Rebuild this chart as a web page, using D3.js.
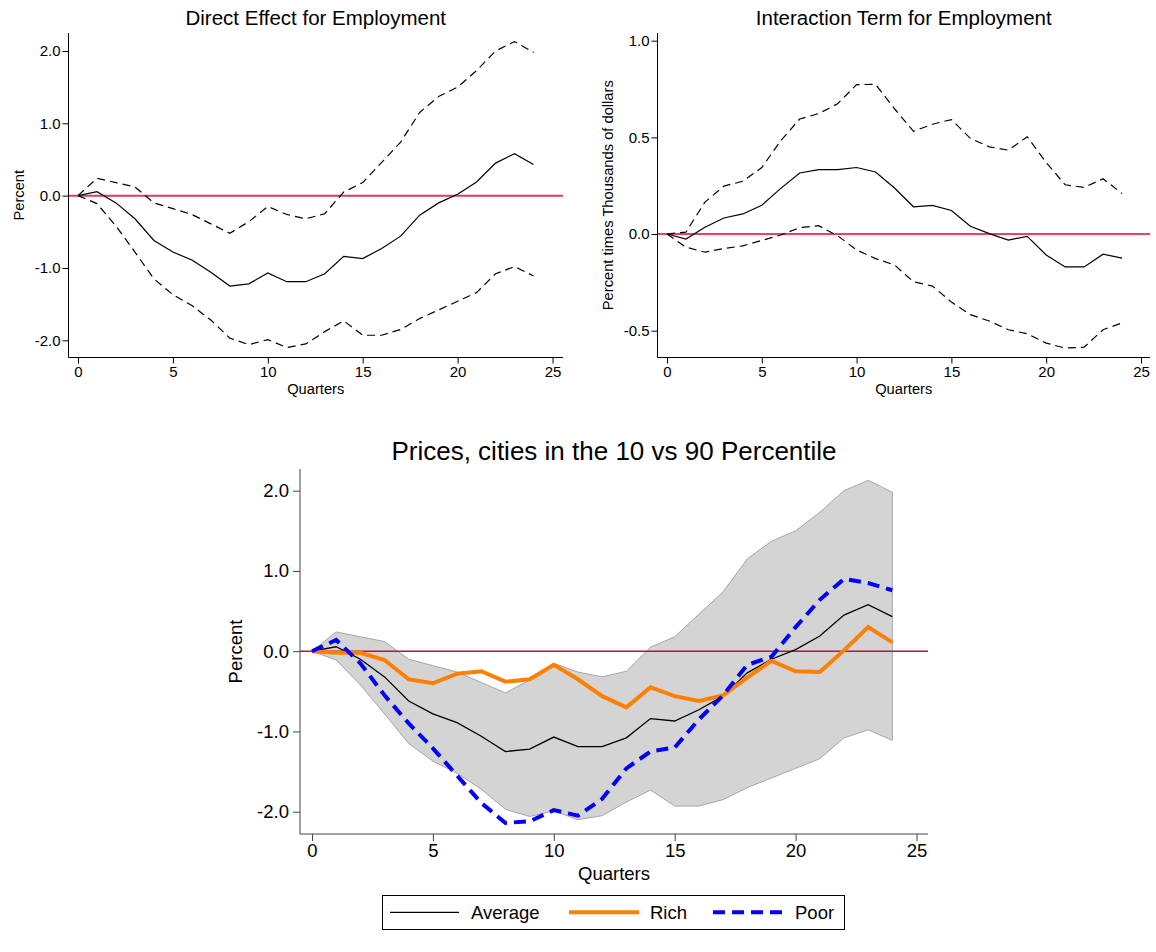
<!DOCTYPE html>
<html><head><meta charset="utf-8">
<script src="https://cdn.jsdelivr.net/npm/d3@7"></script>
<style>
html,body{margin:0;padding:0;background:#fff;}
svg{display:block;font-family:"Liberation Sans",Arial,sans-serif;}
</style></head>
<body>
<svg id="chart" width="1156" height="952"></svg>
<script>
// ---------------- DATA ----------------
const quarters = d3.range(0, 25);

// Direct effect for employment (also the "Average" in the prices chart)
const directMean  = [0, 0.055, -0.10, -0.32, -0.62, -0.78, -0.89, -1.06, -1.25, -1.22, -1.07, -1.19, -1.19, -1.08, -0.84, -0.87, -0.73, -0.56, -0.27, -0.10, 0.02, 0.19, 0.45, 0.58, 0.43];
const directUpper = [0, 0.24, 0.18, 0.12, -0.10, -0.18, -0.26, -0.39, -0.52, -0.36, -0.15, -0.26, -0.32, -0.25, 0.05, 0.18, 0.46, 0.74, 1.15, 1.37, 1.50, 1.73, 2.00, 2.13, 1.98];
const directLower = [0, -0.11, -0.42, -0.78, -1.15, -1.37, -1.52, -1.72, -1.97, -2.06, -1.99, -2.10, -2.05, -1.88, -1.73, -1.93, -1.93, -1.85, -1.70, -1.58, -1.46, -1.34, -1.08, -0.98, -1.11];

// Interaction term for employment
const interMean  = [0, -0.026, 0.035, 0.083, 0.104, 0.149, 0.236, 0.316, 0.333, 0.333, 0.344, 0.321, 0.238, 0.141, 0.148, 0.122, 0.040, 0.002, -0.031, -0.012, -0.108, -0.170, -0.170, -0.104, -0.125];
const interUpper = [0, 0.010, 0.165, 0.248, 0.273, 0.344, 0.483, 0.595, 0.623, 0.674, 0.773, 0.774, 0.648, 0.531, 0.568, 0.592, 0.495, 0.451, 0.434, 0.503, 0.370, 0.255, 0.241, 0.286, 0.210];
const interLower = [0, -0.068, -0.094, -0.075, -0.061, -0.033, -0.005, 0.033, 0.043, -0.009, -0.082, -0.127, -0.160, -0.247, -0.269, -0.352, -0.417, -0.450, -0.495, -0.516, -0.564, -0.590, -0.585, -0.495, -0.460];

// Prices, cities in the 10 vs 90 percentile
const richValues = [0, -0.02, -0.02, -0.11, -0.35, -0.40, -0.28, -0.25, -0.38, -0.35, -0.17, -0.35, -0.56, -0.70, -0.45, -0.56, -0.62, -0.55, -0.33, -0.12, -0.25, -0.26, 0.01, 0.30, 0.11];
const poorValues = [0, 0.14, -0.15, -0.55, -0.90, -1.21, -1.55, -1.89, -2.14, -2.12, -1.98, -2.05, -1.84, -1.46, -1.25, -1.20, -0.85, -0.55, -0.17, -0.07, 0.30, 0.64, 0.90, 0.85, 0.76];

const xTicks = [0, 5, 10, 15, 20, 25];
const yTicksDirect = [-2, -1, 0, 1, 2];
const yTicksInter = [-0.5, 0, 0.5, 1];
const legendLabels = ["Average", "Rich", "Poor"];

// ---------------- DRAW ----------------
const svg = d3.select("#chart");
const fmt = v => d3.format(".1f")(v).replace("\u2212", "-");

function panel(o) {
  const g = svg.append("g");
  const x = d3.scaleLinear().domain([0, 25]).range(o.xr);
  const y = d3.scaleLinear().domain(o.yd).range(o.yr);
  const axisColor = o.axisColor || "#000";

  g.append("text").attr("x", (o.left + o.right) / 2).attr("y", o.titleY)
    .attr("text-anchor", "middle").attr("font-size", o.titleSize).attr("fill", "#000").text(o.title);

  if (o.band) {
    const area = d3.area().x((d, i) => x(quarters[i])).y0((d, i) => y(o.band[0][i])).y1((d, i) => y(o.band[1][i]));
    g.append("path").datum(o.band[0]).attr("d", area).attr("fill", "#d4d4d4").attr("stroke", "#a6a6a6").attr("stroke-width", 1);
  }

  g.append("line").attr("x1", o.left).attr("x2", o.right).attr("y1", y(0)).attr("y2", y(0))
    .attr("stroke", o.zeroColor).attr("stroke-width", o.zeroWidth);

  const line = d3.line().x((d, i) => x(quarters[i])).y(d => y(d));
  o.series.forEach(s => {
    g.append("path").datum(s.values).attr("d", line).attr("fill", "none")
      .attr("stroke", s.color).attr("stroke-width", s.width)
      .attr("stroke-dasharray", s.dash || null).attr("stroke-linejoin", "miter");
  });

  const xa = g.append("g").attr("transform", `translate(0,${o.bottom})`)
    .call(d3.axisBottom(x).tickValues(xTicks).tickSize(o.tick).tickPadding(o.xPad).tickSizeOuter(0));
  xa.select(".domain").remove();
  xa.selectAll("line").attr("stroke", axisColor);
  xa.selectAll("text").attr("font-size", o.tickFont).attr("fill", "#000").attr("font-family", null);
  g.append("line").attr("x1", o.left).attr("x2", o.right).attr("y1", o.bottom).attr("y2", o.bottom)
    .attr("stroke", axisColor).attr("stroke-width", 1);

  const ya = g.append("g").attr("transform", `translate(${o.left},0)`)
    .call(d3.axisLeft(y).tickValues(o.yTicks).tickFormat(fmt).tickSize(o.tick).tickPadding(o.yPad).tickSizeOuter(0));
  ya.select(".domain").remove();
  ya.selectAll("line").attr("stroke", axisColor);
  ya.selectAll("text").attr("font-size", o.tickFont).attr("fill", "#000").attr("font-family", null);
  g.append("line").attr("x1", o.left).attr("x2", o.left).attr("y1", o.top).attr("y2", o.bottom)
    .attr("stroke", axisColor).attr("stroke-width", 1);

  g.append("text").attr("x", (o.left + o.right) / 2).attr("y", o.xLabelY).attr("text-anchor", "middle")
    .attr("font-size", o.labelFont).attr("fill", "#000").text("Quarters");
  g.append("text").attr("transform", `translate(${o.yLabelX},${(o.top + o.bottom) / 2}) rotate(-90)`)
    .attr("text-anchor", "middle").attr("font-size", o.labelFont).attr("fill", "#000").text(o.yLabel);
}

panel({
  title: "Direct Effect for Employment", titleY: 24.5, titleSize: 20.5,
  left: 68.5, right: 563, top: 33, bottom: 357.5,
  xr: [78, 552.5], yd: [-2, 2], yr: [340.3, 51], yTicks: yTicksDirect,
  tick: 6, xPad: 3, yPad: 2, tickFont: 15, labelFont: 14.7,
  xLabelY: 393.5, yLabelX: 23.5, yLabel: "Percent",
  zeroColor: "#e03a63", zeroWidth: 2,
  series: [
    {values: directUpper, color: "#000", width: 1.2, dash: "8,5"},
    {values: directLower, color: "#000", width: 1.2, dash: "8,5"},
    {values: directMean, color: "#000", width: 1.2}
  ]
});

panel({
  title: "Interaction Term for Employment", titleY: 24.5, titleSize: 20.5,
  left: 657.5, right: 1150, top: 33, bottom: 357.5,
  xr: [667, 1141], yd: [-0.5, 1], yr: [330.7, 40.7], yTicks: yTicksInter,
  tick: 6, xPad: 3, yPad: 2, tickFont: 15, labelFont: 14.7,
  xLabelY: 393.5, yLabelX: 613, yLabel: "Percent times Thousands of dollars",
  zeroColor: "#e8002e", zeroWidth: 1.5,
  series: [
    {values: interUpper, color: "#000", width: 1.2, dash: "8,5"},
    {values: interLower, color: "#000", width: 1.2, dash: "8,5"},
    {values: interMean, color: "#000", width: 1.2}
  ]
});

panel({
  title: "Prices, cities in the 10 vs 90 Percentile", titleY: 459.5, titleSize: 26,
  left: 300, right: 928, top: 469, bottom: 834,
  xr: [312, 916.5], yd: [-2, 2], yr: [811.7, 490.7], yTicks: yTicksDirect,
  tick: 7, xPad: 3, yPad: 4, tickFont: 18.5, labelFont: 18.5,
  xLabelY: 880, yLabelX: 241.5, yLabel: "Percent",
  axisColor: "#444",
  zeroColor: "#b0173f", zeroWidth: 1.5,
  band: [directLower, directUpper],
  series: [
    {values: directMean, color: "#000", width: 1.3},
    {values: richValues, color: "#ff8000", width: 4},
    {values: poorValues, color: "#0000ff", width: 4, dash: "12,7"}
  ]
});

// legend
const leg = svg.append("g");
leg.append("rect").attr("x", 382.5).attr("y", 895.5).attr("width", 462).attr("height", 34)
  .attr("fill", "#fff").attr("stroke", "#000").attr("stroke-width", 1);
const legStyles = [
  {x1: 390, x2: 459, tx: 471, color: "#000", width: 1.3, dash: null},
  {x1: 569, x2: 639, tx: 650, color: "#ff8000", width: 4, dash: null},
  {x1: 713, x2: 784, tx: 795, color: "#0000ff", width: 4, dash: "12,7"}
];
legendLabels.forEach((lab, i) => {
  const s = legStyles[i];
  leg.append("line").attr("x1", s.x1).attr("x2", s.x2).attr("y1", 912.3).attr("y2", 912.3)
    .attr("stroke", s.color).attr("stroke-width", s.width).attr("stroke-dasharray", s.dash);
  leg.append("text").attr("x", s.tx).attr("y", 919).attr("font-size", 18.5).attr("fill", "#000").text(lab);
});
</script>
</body></html>
